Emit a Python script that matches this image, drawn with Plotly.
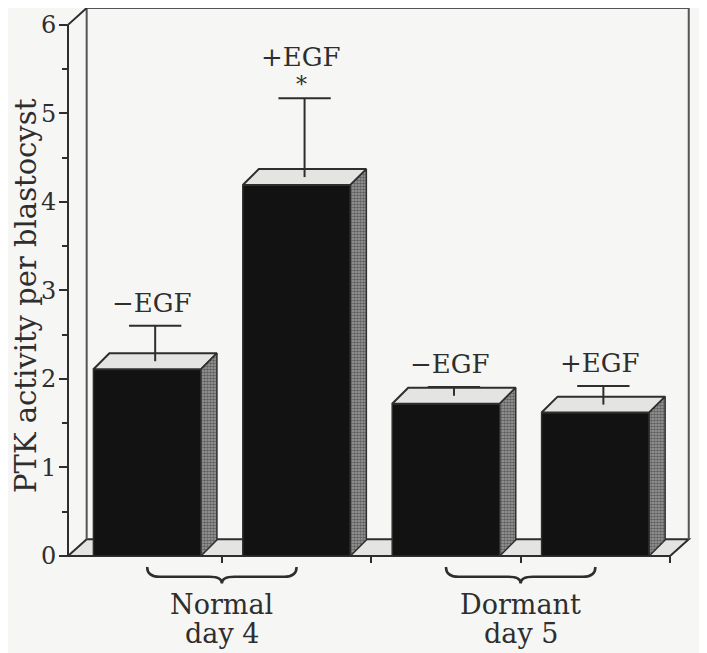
# === IMPORTS ===
import plotly.graph_objects as go


# === DADOS ===
rotulos = ["\u2212EGF", "+EGF", "\u2212EGF", "+EGF"]
atividade = [2.11, 4.19, 1.72, 1.62]
erro = [0.49, 0.98, 0.19, 0.30]
signif = ["", "*", "", ""]
grupos = ["Normal", "Dormant"]
dias = ["day 4", "day 5"]
y_ticks = [0, 1, 2, 3, 4, 5, 6]


# === ESTILO ===
FONTE = "DejaVu Serif"
TINTA = "#2e2e2e"
FUNDO = "#f6f6f4"
X_RANGE = [-0.53, 3.62]
Y_RANGE = [0, 6.19]
LARG = 0.72                       # largura da face frontal
PROF_X, PROF_Y = 0.107, 0.18      # profundidade 3D das barras
PAREDE_X, PAREDE_Y = 0.125, 0.19  # profundidade do "piso" e da parede


def px(x):
    return (x - X_RANGE[0]) / (X_RANGE[1] - X_RANGE[0])


def py(y):
    return (y - Y_RANGE[0]) / (Y_RANGE[1] - Y_RANGE[0])


xs = list(range(len(atividade)))
ultimo = len(atividade) - 0.5
fig = go.Figure()

# faces frontais
fig.add_trace(go.Bar(
    x=xs, y=atividade, width=LARG,
    marker=dict(color="#121212", line=dict(color=TINTA, width=1.5)),
))

# topo e lateral de cada barra
for x, v in zip(xs, atividade):
    esq, dir_ = x - LARG / 2, x + LARG / 2
    fig.add_trace(go.Scatter(
        x=[esq, dir_, dir_ + PROF_X, esq + PROF_X, esq],
        y=[v, v, v + PROF_Y, v + PROF_Y, v],
        fill="toself", fillcolor="#e4e4e2", mode="lines",
        line=dict(color=TINTA, width=2),
    ))
    fig.add_trace(go.Scatter(
        x=[dir_, dir_ + PROF_X, dir_ + PROF_X, dir_, dir_],
        y=[0, PROF_Y, v + PROF_Y, v, 0],
        fill="toself", fillcolor="#9a9a9a", mode="lines",
        fillpattern=dict(shape=".", fgcolor="#1e1e1e", bgcolor="#a0a0a0",
                         size=3, solidity=0.6),
        line=dict(color=TINTA, width=1.5),
    ))

# barras de erro (saindo do centro do topo)
for x, v, e in zip(xs, atividade, erro):
    xc = x + PROF_X / 2
    topo = v + e
    fig.add_trace(go.Scatter(
        x=[xc, xc, None, xc - 0.175, xc + 0.175],
        y=[v + PROF_Y / 2, topo, None, topo, topo],
        mode="lines", line=dict(color=TINTA, width=2),
    ))

# rótulos acima das barras
for x, v, e, rot, s in zip(xs, atividade, erro, rotulos, signif):
    fig.add_annotation(x=x + 0.03, y=v + e, text=rot, showarrow=False,
                       yanchor="middle", yshift=41 if s else 23,
                       font=dict(family=FONTE, size=26, color=TINTA))
    if s:
        fig.add_annotation(x=x + 0.03, y=v + e, text=s, showarrow=False,
                           yanchor="middle", yshift=14,
                           font=dict(family=FONTE, size=22, color=TINTA))

# piso, parede e eixo (em coordenadas de papel, sem recorte)
shapes = []
shapes.append(dict(
    type="path", xref="paper", yref="paper", layer="below",
    path=(f"M {px(X_RANGE[0])},{py(0)} L {px(ultimo)},{py(0)} "
          f"L {px(ultimo + PAREDE_X)},{py(PAREDE_Y)} "
          f"L {px(X_RANGE[0] + PAREDE_X)},{py(PAREDE_Y)} Z"),
    fillcolor="#e4e4e2", line=dict(color=TINTA, width=2),
))
shapes.append(dict(
    type="path", xref="paper", yref="paper", layer="below",
    path=(f"M {px(X_RANGE[0] + PAREDE_X)},{py(PAREDE_Y)} "
          f"L {px(X_RANGE[0] + PAREDE_X)},{py(y_ticks[-1] + PAREDE_Y)} "
          f"L {px(ultimo + PAREDE_X)},{py(y_ticks[-1] + PAREDE_Y)} "
          f"L {px(ultimo + PAREDE_X)},{py(PAREDE_Y)}"),
    line=dict(color="#555555", width=2),
))
shapes.append(dict(
    type="path", xref="paper", yref="paper", layer="above",
    path=(f"M {px(X_RANGE[0])},{py(0)} L {px(X_RANGE[0])},{py(y_ticks[-1])} "
          f"L {px(X_RANGE[0] + PAREDE_X)},{py(y_ticks[-1] + PAREDE_Y)}"),
    line=dict(color=TINTA, width=2),
))

# chaves sob cada grupo
ALTO, MEIO, PONTA = -0.02, -0.038, -0.05
r = 0.02
for g, (nome, dia) in enumerate(zip(grupos, dias)):
    a, b = px(2 * g), px(2 * g + 1)
    m = (a + b) / 2
    shapes.append(dict(
        type="path", xref="paper", yref="paper",
        path=(f"M {a},{ALTO} Q {a},{MEIO} {a + r},{MEIO} L {m - r},{MEIO} "
              f"Q {m},{MEIO} {m},{PONTA} Q {m},{MEIO} {m + r},{MEIO} "
              f"L {b - r},{MEIO} Q {b},{MEIO} {b},{ALTO}"),
        line=dict(color=TINTA, width=2.5),
    ))
    fig.add_annotation(x=2 * g + 0.5, xref="x", y=-0.089, yref="paper",
                       text=nome, showarrow=False, yanchor="middle",
                       font=dict(family=FONTE, size=27, color=TINTA))
    fig.add_annotation(x=2 * g + 0.5, xref="x", y=-0.142, yref="paper",
                       text=dia, showarrow=False, yanchor="middle",
                       font=dict(family=FONTE, size=27, color=TINTA))

# título do eixo y
fig.add_annotation(x=-0.069, xref="paper", y=0.475, yref="paper",
                   text="PTK activity per blastocyst", textangle=-90,
                   showarrow=False, xanchor="center", yanchor="middle",
                   font=dict(family=FONTE, size=29, color=TINTA))

# a página tem 8 px de margem no body: o gráfico é um pouco menor
fig.update_layout(
    width=699, height=645,
    margin=dict(l=60, r=19, t=0, b=97),
    paper_bgcolor=FUNDO, plot_bgcolor=FUNDO,
    showlegend=False, hovermode=False,
    shapes=shapes,
    xaxis=dict(range=X_RANGE, showgrid=False, zeroline=False, showline=False,
               tickvals=[i + 0.5 for i in xs], showticklabels=False,
               ticks="outside", ticklen=6, tickwidth=2, tickcolor=TINTA),
    yaxis=dict(range=Y_RANGE, showgrid=False, zeroline=False, showline=False,
               tickvals=y_ticks, ticks="outside", ticklen=8, tickwidth=2,
               tickcolor=TINTA, ticklabelstandoff=-2,
               tickfont=dict(family=FONTE, size=24, color=TINTA),
               minor=dict(dtick=0.5, tick0=0, ticks="outside", ticklen=5,
                          tickwidth=2, tickcolor=TINTA)),
)

fig.write_html("out.html")
